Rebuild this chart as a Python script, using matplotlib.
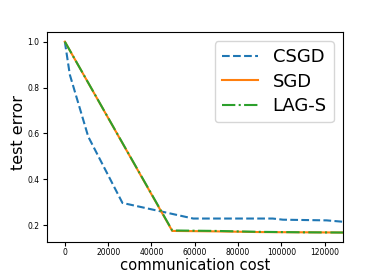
import matplotlib
matplotlib.use('Agg')
import matplotlib.pyplot as plt

# communication cost vs test error
csgd_x = [0, 2300, 10800, 26600, 59300, 96000, 100700, 120900, 128400]
csgd_y = [1.0, 0.856, 0.586, 0.297, 0.229, 0.229, 0.224, 0.221, 0.215]

sgd_x = [0, 49600, 70000, 90000, 110000, 128400]
sgd_y = [1.0, 0.175, 0.173, 0.170, 0.169, 0.168]

lag_x = [0, 49600, 70000, 90000, 110000, 128400]
lag_y = [1.0, 0.177, 0.175, 0.171, 0.169, 0.168]

fig = plt.figure(figsize=(3.81, 2.72), dpi=100)
ax = fig.add_axes([0.123, 0.110, 0.777, 0.772])

ax.plot(csgd_x, csgd_y, '--', color='tab:blue', linewidth=1.5, label='CSGD')
ax.plot(sgd_x, sgd_y, '-', color='tab:orange', linewidth=1.5, label='SGD')
ax.plot(lag_x, lag_y, '-.', color='tab:green', linewidth=1.5, label='LAG-S')

ax.set_xlim(-8300, 128400)
ax.set_xticks([0, 20000, 40000, 60000, 80000, 100000, 120000])
ax.set_yticks([0.2, 0.4, 0.6, 0.8, 1.0])
ax.tick_params(labelsize=5.5, length=3, pad=2.5)
ax.tick_params(axis='x', pad=1.5)

ax.set_xlabel('communication cost', fontsize=10.6)
ax.set_ylabel('test error', fontsize=11.5)
ax.xaxis.set_label_coords(0.5, -0.074)
ax.yaxis.set_label_coords(-0.072, 0.52)
ax.legend(loc='upper right', fontsize=13, labelspacing=0.35)

fig.savefig('out.png', dpi=100)
